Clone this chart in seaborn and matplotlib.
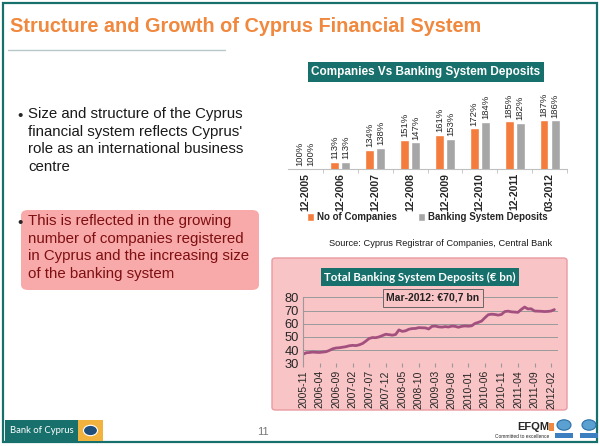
import numpy as np
import pandas as pd
import matplotlib.pyplot as plt
import seaborn as sns
from matplotlib.patches import FancyBboxPatch, Rectangle, Circle

# bar chart data (index, 12-2005 = 100%)
periods = ['12-2005', '12-2006', '12-2007', '12-2008', '12-2009', '12-2010', '12-2011', '03-2012']
companies = [100, 113, 134, 151, 161, 172, 185, 187]
deposits = [100, 113, 138, 147, 153, 184, 182, 186]

# monthly total banking system deposits (EUR bn), 2005-11 .. 2012-03
months = pd.date_range('2005-11-01', '2012-03-01', freq='MS').strftime('%Y-%m').tolist()
deposit_bn = [36.8, 38.0, 38.2, 38.5, 38.3, 38.2, 38.5, 38.8, 39.8, 41.0,
              41.6, 41.8, 42.2, 42.6, 43.3, 43.6, 43.4, 44.0, 45.0, 46.8,
              48.8, 49.5, 49.4, 50.0, 51.0, 52.0, 51.7, 51.3, 51.8, 55.3,
              54.2, 54.6, 55.8, 56.3, 56.4, 57.0, 56.9, 56.8, 56.0, 58.0,
              58.2, 57.6, 57.4, 57.8, 57.5, 58.2, 58.0, 57.3, 58.0, 58.3,
              58.1, 58.4, 60.2, 61.0, 62.0, 64.5, 66.8, 67.2, 67.0, 66.5,
              67.0, 69.2, 69.5, 69.0, 68.8, 68.6, 70.8, 72.6, 71.2, 71.3,
              69.6, 69.5, 69.4, 69.2, 69.3, 69.6, 70.7]

orange = '#F47C3C'
grey = '#A6A6A6'
teal = '#17706C'
pink = '#F9C4C6'
line_col = '#A3507F'

sns.set_style('white')
plt.rcParams['font.family'] = ['Liberation Sans', 'DejaVu Sans']

W, H = 600, 446
fig = plt.figure(figsize=(6, 4.46), dpi=100)


def fx(x):
    return x / W


def fy(y):
    return 1 - y / H


def box(x0, y0, x1, y1, **kw):
    fig.patches.append(Rectangle((fx(x0), fy(y1)), fx(x1) - fx(x0), fy(y0) - fy(y1),
                                 transform=fig.transFigure, **kw))


# slide frame
box(3, 3, 597, 442, fill=False, edgecolor=teal, lw=1.6, zorder=-2)

# title
fig.text(fx(10), fy(27), 'Structure and Growth of Cyprus Financial System', color='#F0883E',
         fontsize=14.3, fontweight='bold', va='center', ha='left')
fig.add_artist(plt.Line2D([fx(8), fx(225)], [fy(50), fy(50)], color='#B7C7C7', lw=1))

# left bullets
fig.text(fx(17), fy(116), '•', fontsize=10.8, va='center')
fig.text(fx(28), fy(107), "Size and structure of the Cyprus\nfinancial system reflects Cyprus'\n"
         "role as an international business\ncentre", fontsize=10.8, va='top', ha='left',
         linespacing=1.33, color='#1A1A1A')
fig.patches.append(FancyBboxPatch((fx(21), fy(290)), fx(259) - fx(21), fy(210) - fy(290),
                                  boxstyle='round,pad=0,rounding_size=0.012',
                                  transform=fig.transFigure, facecolor='#F8A9A9',
                                  edgecolor='none', zorder=-1))
fig.text(fx(17), fy(223), '•', fontsize=10.8, va='center')
fig.text(fx(28), fy(214), "This is reflected in the growing\nnumber of companies registered\n"
         "in Cyprus and the increasing size\nof the banking system", fontsize=10.8,
         va='top', ha='left', linespacing=1.33, color='#7E0F12')

# bar chart
axb = fig.add_axes([fx(288), fy(169), fx(567) - fx(288), (169 - 95) / H])
bar_df = pd.DataFrame({'period': periods * 2,
                       'value': companies + deposits,
                       'series': ['No of Companies'] * len(periods) + ['Banking System Deposits'] * len(periods)})
sns.barplot(data=bar_df, x='period', y='value', hue='series', palette=[orange, grey],
            width=0.64, gap=0.2, saturation=1, ax=axb)
axb.set_ylim(100, 231)
for cont in axb.containers:
    axb.bar_label(cont, fmt='%d%%', rotation=90, padding=2, fontsize=6.8)
sns.despine(ax=axb, left=True)
axb.spines['bottom'].set_color('#BFBFBF')
axb.set_yticks([])
axb.set_xlabel('')
axb.set_ylabel('')
axb.tick_params(axis='x', rotation=90, labelsize=7.5, length=0, pad=3)
for lab in axb.get_xticklabels():
    lab.set_fontweight('bold')
axb.set_xticks(np.arange(len(periods)) + 0.5, minor=True)
axb.tick_params(axis='x', which='minor', length=3, color='#BFBFBF', bottom=True)
axb.legend(loc='center', bbox_to_anchor=(0.5, -0.65), ncol=2, frameon=False,
           prop={'size': 7, 'weight': 'bold'}, handlelength=0.7, handleheight=0.9,
           columnspacing=2.2, handletextpad=0.3)

fig.text(fx(426), fy(72), 'Companies Vs Banking System Deposits', color='white', fontsize=8.5,
         fontweight='bold', ha='center', va='center',
         bbox=dict(boxstyle='square,pad=0.3', facecolor=teal, edgecolor='none'))
fig.text(fx(441), fy(243), 'Source: Cyprus Registrar of Companies, Central Bank', fontsize=6.7,
         ha='center', va='center', color='#1A1A1A')

# line chart panel
fig.patches.append(FancyBboxPatch((fx(272), fy(410)), fx(567) - fx(272), fy(258) - fy(410),
                                  boxstyle='round,pad=0,rounding_size=0.006',
                                  transform=fig.transFigure, facecolor=pink,
                                  edgecolor='#E89AA0', lw=1, zorder=-1))
axl = fig.add_axes([fx(303), fy(363.3), fx(558) - fx(303), (363.3 - 297.3) / H])
axl.set_facecolor('none')
sns.lineplot(x=np.arange(len(deposit_bn)), y=deposit_bn, color=line_col, lw=2, ax=axl)
axl.set_xlim(0, 77.1)
axl.set_ylim(30, 80)
axl.set_yticks(range(30, 81, 10))
axl.yaxis.grid(True, color='#9A9A9A', lw=0.7)
for s in ['top', 'right', 'bottom']:
    axl.spines[s].set_visible(False)
axl.spines['left'].set_color('#9A9A9A')
tick_pos = list(range(0, len(months), 5))
axl.set_xticks(tick_pos)
axl.set_xticklabels([months[i] for i in tick_pos], rotation=90, fontsize=7.5)
axl.tick_params(axis='y', labelsize=9.3, length=0, pad=3)
axl.tick_params(axis='x', length=3, color='#9A9A9A', pad=2, bottom=True)

fig.text(fx(420), fy(277), 'Total Banking System Deposits (€ bn)', color='white', fontsize=8.3,
         fontweight='bold', ha='center', va='center', family=['Lato', 'DejaVu Sans'],
         bbox=dict(boxstyle='square,pad=0.3', facecolor=teal, edgecolor='none'))
fig.text(fx(433), fy(298), 'Mar-2012: €70,7 bn', fontsize=7.5, fontweight='bold', ha='center',
         va='center', color='#222222',
         bbox=dict(boxstyle='square,pad=0.35', facecolor=pink, edgecolor='#666666', lw=0.7))

# footer
box(5, 420, 78, 441, facecolor=teal, edgecolor='none', zorder=-1)
box(78, 420, 103, 441, facecolor='#F2B23E', edgecolor='none', zorder=-1)
fig.patches.append(Circle((fx(90.5), fy(430.5)), 7 / W, transform=fig.transFigure,
                          facecolor='#1F4F7A', edgecolor='white', lw=0.8))
fig.text(fx(10), fy(430.5), 'Bank of Cyprus', color='white', fontsize=6.8, va='center',
         family=['Lato', 'DejaVu Sans'])
fig.text(fx(263), fy(432), '11', color='#777777', fontsize=8, ha='center', va='center')
fig.text(fx(533), fy(427), 'EFQM', fontsize=8, fontweight='bold', ha='center', va='center')
box(549, 423, 554, 431, facecolor='#F0883E', edgecolor='none')
fig.text(fx(522), fy(436), 'Committed to excellence', fontsize=3.5, ha='center', va='center')
for cx in (564, 589):
    fig.patches.append(Circle((fx(cx), fy(425)), 7 / W, transform=fig.transFigure,
                              facecolor='#5AA0D0', edgecolor='#2A6FA8', lw=0.8))
    box(cx - 9, 433, cx + 9, 438, facecolor='#3C7FC0', edgecolor='none')

fig.savefig('out.png', dpi=100)
